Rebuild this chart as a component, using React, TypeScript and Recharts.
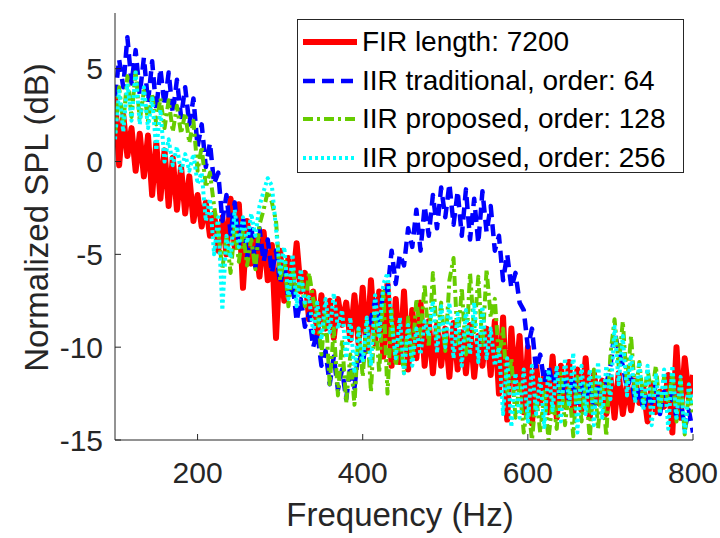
import React from "react";
import { LineChart, Line, XAxis, YAxis } from "recharts";

// frequency grid (Hz)
const freqs = [
  100, 105, 110, 115, 120, 125, 130, 135, 140, 145,
  150, 155, 160, 165, 170, 175, 180, 185, 190, 195,
  200, 205, 210, 215, 220, 225, 230, 235, 240, 245,
  250, 255, 260, 265, 270, 275, 280, 285, 290, 295,
  300, 305, 310, 315, 320, 325, 330, 335, 340, 345,
  350, 355, 360, 365, 370, 375, 380, 385, 390, 395,
  400, 405, 410, 415, 420, 425, 430, 435, 440, 445,
  450, 455, 460, 465, 470, 475, 480, 485, 490, 495,
  500, 505, 510, 515, 520, 525, 530, 535, 540, 545,
  550, 555, 560, 565, 570, 575, 580, 585, 590, 595,
  600, 605, 610, 615, 620, 625, 630, 635, 640, 645,
  650, 655, 660, 665, 670, 675, 680, 685, 690, 695,
  700, 705, 710, 715, 720, 725, 730, 735, 740, 745,
  750, 755, 760, 765, 770, 775, 780, 785, 790, 795,
  800,
];

// normalized SPL (dB) per filter
const firSpl = [
  3.5, -0.2, 2.5, 0.3, 1.8, -0.5, 1.5, -0.8, 1.4, -1.8,
  1.0, -2.0, 0.6, -2.4, 0.2, -2.6, -0.3, -2.8, -0.8, -3.2,
  -1.8, -3.5, -2.2, -4.0, -2.8, -4.8, -3.0, -5.0, -2.0, -4.6,
  -2.3, -6.8, -3.2, -5.5, -4.2, -6.2, -3.8, -6.4, -4.5, -9.5,
  -4.8, -7.5, -5.2, -6.8, -4.4, -7.0, -6.0, -8.5, -7.0, -9.3,
  -7.2, -9.0, -7.5, -9.5, -7.4, -8.8, -7.6, -9.6, -7.2, -9.8,
  -6.8, -10.2, -6.4, -9.8, -7.0, -10.5, -6.6, -11.0, -7.4, -10.8,
  -7.0, -11.2, -8.0, -10.6, -7.6, -11.0, -8.6, -11.4, -8.8, -11.0,
  -9.0, -11.6, -8.7, -11.2, -9.2, -11.4, -8.8, -11.6, -9.4, -11.0,
  -9.0, -11.5, -8.6, -12.5, -8.4, -13.9, -9.0, -12.2, -9.4, -13.5,
  -10.0, -14.1, -11.0, -13.0, -11.5, -13.5, -10.5, -13.8, -11.0, -13.2,
  -10.8, -13.6, -11.2, -13.4, -10.6, -13.8, -11.4, -13.0, -11.8, -13.6,
  -11.6, -13.8, -11.4, -13.6, -12.0, -13.4, -11.8, -13.0, -12.2, -14.0,
  -12.0, -13.5, -12.4, -13.2, -11.5, -14.6, -10.0, -13.8, -10.6, -12.8,
  -11.5,
];

const iirTradSpl = [
  3.5, 5.5, 4.0, 6.7, 4.2, 6.0, 3.6, 5.6, 3.2, 5.4,
  2.8, 5.0, 3.0, 4.8, 2.6, 4.4, 2.4, 4.0, 2.0, 3.4,
  0.8, 2.0, -0.3, 1.0, -1.2, -0.6, -3.2, -1.8, -3.9, -2.2,
  -4.5, -3.0, -5.2, -3.4, -5.7, -3.6, -5.4, -4.2, -6.0, -4.8,
  -6.6, -5.5, -7.4, -6.5, -8.6, -7.4, -8.9, -8.2, -10.0, -9.2,
  -11.0, -10.2, -12.0, -10.5, -12.3, -11.2, -12.8, -11.0, -12.2, -10.2,
  -11.0, -9.2, -8.5, -7.5, -9.0, -6.8, -7.0, -4.8, -6.6, -5.0,
  -5.6, -3.6, -4.6, -2.6, -4.8, -2.4, -4.0, -1.8, -3.6, -1.4,
  -3.0, -1.2, -3.4, -1.6, -4.0, -1.5, -4.2, -2.0, -4.4, -1.6,
  -3.8, -2.4, -4.8, -4.0, -6.4, -5.0, -6.8, -6.0, -7.6, -8.0,
  -10.0, -9.0, -11.2, -10.4, -11.9, -11.0, -12.0, -11.4, -12.6, -11.8,
  -12.8, -11.6, -13.0, -12.0, -12.8, -11.8, -13.2, -12.2, -12.4, -12.0,
  -11.0, -9.2, -10.2, -11.0, -12.2, -11.6, -13.0, -12.2, -13.4, -12.4,
  -13.0, -12.0, -13.6, -12.4, -13.0, -12.6, -13.8, -12.8, -14.4, -13.4,
  -14.6,
];

const iir128Spl = [
  1.5, 4.0, 2.0, 4.6, 2.4, 4.9, 2.2, 3.8, 2.2, 3.6,
  2.0, 3.4, 1.8, 3.3, 1.6, 3.0, 1.5, 2.6, 1.0, 2.2,
  -0.5, 0.8, -1.4, -0.6, -2.4, -3.8, -5.8, -4.0, -6.0, -3.6,
  -5.4, -3.8, -5.6, -4.2, -5.8, -3.4, -2.6, -1.6, -2.2, -3.2,
  -6.4, -5.2, -7.8, -5.8, -7.0, -6.2, -7.8, -6.0, -7.4, -8.2,
  -10.4, -8.0, -12.0, -9.0, -12.6, -9.6, -13.0, -10.4, -13.1, -9.0,
  -11.6, -8.6, -12.4, -8.0, -11.4, -7.0, -12.5, -8.0, -11.0, -9.6,
  -11.4, -8.4, -10.8, -7.4, -9.4, -6.6, -10.0, -6.0, -9.6, -7.6,
  -10.2, -6.4, -5.2, -9.8, -6.8, -10.4, -6.0, -9.2, -6.2, -10.0,
  -5.8, -8.4, -7.4, -10.6, -9.0, -12.4, -10.6, -13.8, -12.0, -14.6,
  -13.0, -15.0, -12.6, -14.6, -12.4, -15.0, -12.8, -14.4, -11.4, -14.2,
  -12.2, -14.8, -11.6, -14.0, -12.0, -15.0, -11.2, -14.4, -12.0, -14.8,
  -10.4, -8.5, -11.0, -8.6, -12.0, -9.4, -12.6, -10.8, -13.0, -11.2,
  -12.6, -11.0, -13.4, -11.6, -13.0, -11.4, -14.0, -11.8, -14.7, -12.4,
  -13.6,
];

const iir256Spl = [
  1.2, 3.8, 1.6, 4.2, 2.2, 4.8, 2.0, 4.0, 1.8, 3.4,
  0.6, 2.8, 0.0, 1.2, -0.2, 0.8, -0.6, 0.4, -0.5, 0.4,
  -1.2, -0.6, -3.2, -2.0, -5.0, -3.0, -8.0, -4.0, -5.2, -2.6,
  -4.6, -3.0, -4.4, -2.8, -4.0, -2.4, -1.6, -0.9, -1.3, -3.6,
  -6.0, -4.6, -7.4, -5.0, -7.8, -5.8, -7.6, -7.3, -9.2, -7.6,
  -9.6, -7.4, -9.2, -7.1, -9.0, -8.0, -10.6, -8.4, -11.4, -9.0,
  -10.8, -8.4, -11.0, -7.2, -9.4, -6.6, -6.0, -8.6, -10.6, -8.4,
  -11.4, -8.8, -11.0, -9.0, -10.4, -8.6, -9.4, -7.5, -10.3, -7.8,
  -10.0, -7.6, -10.6, -8.2, -11.0, -8.0, -10.4, -7.6, -10.8, -7.8,
  -10.6, -9.0, -11.0, -10.0, -13.6, -10.6, -14.3, -11.4, -13.8, -11.2,
  -14.0, -11.0, -13.6, -11.6, -14.3, -11.2, -13.4, -11.0, -14.0, -10.6,
  -13.2, -10.3, -14.6, -11.0, -13.6, -11.2, -14.2, -10.8, -13.8, -11.0,
  -12.8, -8.9, -12.0, -9.4, -12.6, -10.4, -13.0, -10.8, -13.4, -11.0,
  -14.2, -11.4, -13.6, -11.2, -14.4, -11.0, -13.8, -11.6, -14.7, -12.0,
  -13.2,
];

const xTicks = [200, 400, 600, 800];
const yTicks = [-15, -10, -5, 0, 5];

const series = [
  { key: "fir", name: "FIR length: 7200", color: "#ff0000", width: 6, dash: undefined },
  { key: "trad", name: "IIR traditional, order: 64", color: "#0000ff", width: 4.5, dash: "12 7" },
  { key: "p128", name: "IIR proposed, order: 128", color: "#66cc00", width: 4, dash: "10 4 3 4" },
  { key: "p256", name: "IIR proposed, order: 256", color: "#00ffff", width: 4, dash: "3 3" },
];

const data = freqs.map((f, i) => ({
  f,
  fir: firSpl[i],
  trad: iirTradSpl[i],
  p128: iir128Spl[i],
  p256: iir256Spl[i],
}));

const FONT = "'Liberation Sans', Arial, Helvetica, sans-serif";
const AXIS = "#262626";

function YLabel({ viewBox }: any) {
  const cx = 48;
  const cy = viewBox ? viewBox.y + viewBox.height / 2 - 9 : 217;
  return (
    <text x={cx} y={cy} transform={`rotate(-90 ${cx} ${cy})`} textAnchor="middle" fontSize={33} fill={AXIS} fontFamily={FONT}>
      Normalized SPL (dB)
    </text>
  );
}

function XLabel({ viewBox }: any) {
  const cx = viewBox ? viewBox.x + viewBox.width / 2 - 4 : 400;
  return (
    <text x={cx} y={526} textAnchor="middle" fontSize={33} fill={AXIS} fontFamily={FONT}>
      Frequency (Hz)
    </text>
  );
}

function LegendBox() {
  return (
    <div
      style={{
        position: "absolute",
        left: 297,
        top: 19,
        width: 387,
        height: 154,
        border: "1.5px solid #262626",
        background: "#fff",
        boxSizing: "border-box",
        padding: "3px 0 0 5px",
      }}
    >
      {series.map((s) => (
        <div key={s.key} style={{ display: "flex", alignItems: "center", height: 38.5 }}>
          <svg width={56} height={12} style={{ marginRight: 3 }}>
            <line x1={0} y1={6} x2={54} y2={6} stroke={s.color} strokeWidth={s.width} strokeDasharray={s.dash} />
          </svg>
          <span style={{ fontFamily: FONT, fontSize: 28, color: "#000", whiteSpace: "nowrap" }}>{s.name}</span>
        </div>
      ))}
    </div>
  );
}

export default function App() {
  return (
    <div style={{ position: "relative", width: 720, height: 538, background: "#fff" }}>
      <style>{"body{margin:0}"}</style>
      <LineChart width={720} height={538} data={data} margin={{ top: 13, right: 27, left: 0, bottom: 0 }}>
        <XAxis
          dataKey="f"
          type="number"
          domain={[100, 800]}
          ticks={xTicks}
          allowDataOverflow
          height={98}
          stroke={AXIS}
          tickSize={-6}
          tickMargin={28}
          tick={{ fill: AXIS, fontSize: 30, fontFamily: FONT }}
          label={<XLabel />}
        />
        <XAxis xAxisId="top" dataKey="f" type="number" domain={[100, 800]} ticks={xTicks} orientation="top" height={0} stroke={AXIS} tickSize={-6} tick={false} />
        <YAxis
          type="number"
          domain={[-15, 8]}
          ticks={yTicks}
          allowDataOverflow
          width={115}
          stroke={AXIS}
          tickSize={-6}
          tickMargin={18}
          tick={{ fill: AXIS, fontSize: 30, fontFamily: FONT }}
          label={<YLabel />}
        />
        <YAxis yAxisId="right" type="number" domain={[-15, 8]} ticks={yTicks} orientation="right" width={0} stroke={AXIS} tickSize={-6} tick={false} />
        {series.map((s) => (
          <Line
            key={s.key}
            dataKey={s.key}
            name={s.name}
            type="linear"
            stroke={s.color}
            strokeWidth={s.width}
            strokeDasharray={s.dash}
            strokeLinejoin="round"
            dot={false}
            activeDot={false}
            isAnimationActive={false}
          />
        ))}
      </LineChart>
      <LegendBox />
    </div>
  );
}
